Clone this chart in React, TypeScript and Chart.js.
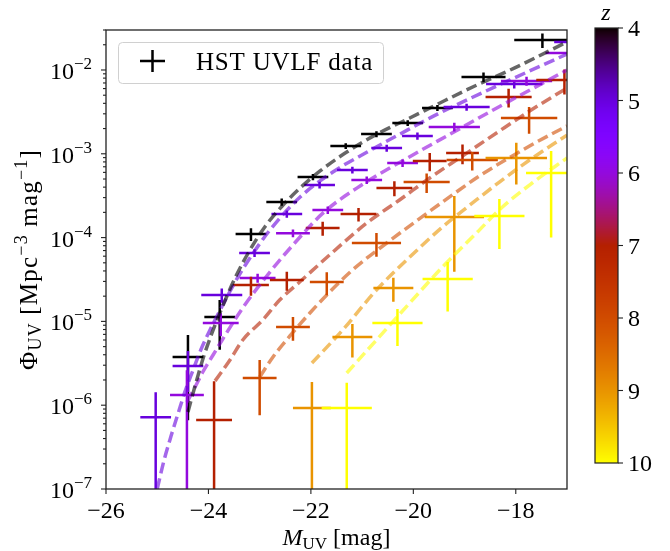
import React, { useEffect, useRef } from 'react';
import { Chart, registerables } from 'chart.js';
Chart.register(...registerables);

const FONT = '"Liberation Serif", "Times New Roman", serif';

// ---------------- HST UVLF data (M_UV, Phi, errors) ----------------
const z4M = [-24.40, -23.78, -23.17, -22.57, -21.96, -21.32, -20.72, -20.11, -19.53, -18.63, -17.48];
const z4dM = [0.3, 0.3, 0.3, 0.3, 0.3, 0.3, 0.3, 0.3, 0.3, 0.43, 0.55];
const z4Phi = [3.76e-6, 1.13e-5, 1.10e-4, 2.66e-4, 5.28e-4, 1.24e-3, 1.72e-3, 2.33e-3, 3.52e-3, 8.24e-3, 2.28e-2];
const z4dPhi = [3.1e-6, 6.7e-6, 1.9e-5, 2.6e-5, 4.5e-5, 1.0e-4, 1.4e-4, 1.9e-4, 2.9e-4, 1.1e-3, 4.5e-3];

const z5M = [-25.03, -24.40, -23.74, -23.10, -22.47, -21.83, -21.19, -20.52, -19.92, -18.96, -18.03, -16.75];
const z5dM = [0.3, 0.3, 0.4, 0.3, 0.3, 0.3, 0.3, 0.3, 0.3, 0.45, 0.55, 0.5];
const z5Phi = [7.2e-7, 2.94e-6, 2.07e-5, 6.55e-5, 1.91e-4, 4.25e-4, 6.41e-4, 1.17e-3, 1.63e-3, 3.61e-3, 6.81e-3, 2.16e-2];
const z5dPhi = [7.1e-7, 1.5e-6, 4e-6, 7e-6, 1.9e-5, 4e-5, 6e-5, 1.1e-4, 1.6e-4, 3.5e-4, 8e-4, 2.5e-3];

const z6M = [-24.42, -23.76, -23.04, -22.35, -21.67, -20.91, -20.21, -19.20, -17.79, -16.92];
const z6dM = [0.33, 0.35, 0.35, 0.33, 0.3, 0.3, 0.3, 0.5, 0.5, 0.5];
const z6Phi = [1.32e-6, 9.57e-6, 3.30e-5, 1.13e-4, 2.13e-4, 4.86e-4, 7.76e-4, 2.09e-3, 7.40e-3, 1.6e-2];
const z6dPhi = [1.3e-6, 2.9e-6, 4e-6, 1.2e-5, 2.2e-5, 5e-5, 8e-5, 2.5e-4, 9e-4, 2e-3];

const z7M = [-23.89, -23.17, -22.47, -21.77, -21.07, -20.37, -19.68, -19.04, -18.14, -17.05];
const z7dM = [0.35, 0.35, 0.33, 0.33, 0.35, 0.35, 0.33, 0.32, 0.45, 0.55];
const z7Phi = [6.65e-7, 2.72e-5, 3.12e-5, 1.30e-4, 1.91e-4, 3.91e-4, 8.20e-4, 1.02e-3, 4.76e-3, 7.6e-3];
const z7dPhi = [1.27e-6, 7e-6, 8e-6, 2.5e-5, 3.5e-5, 8e-5, 2e-4, 2.7e-4, 1.2e-3, 2.5e-3];

const z8M = [-23.00, -22.35, -21.69, -20.72, -19.74, -18.85, -17.74];
const z8dM = [0.33, 0.33, 0.33, 0.48, 0.45, 0.5, 0.55];
const z8Phi = [2.11e-6, 8.57e-6, 2.95e-5, 8.62e-5, 4.60e-4, 8.43e-4, 2.67e-3];
const z8dPhi = [1.35e-6, 2.7e-6, 9e-6, 2.7e-5, 1.2e-4, 2.1e-4, 9.4e-4];

const z9M = [-21.98, -21.19, -20.39, -19.20, -17.99];
const z9dM = [0.37, 0.39, 0.39, 0.58, 0.6];
const z9Phi = [9.27e-7, 6.52e-6, 2.51e-5, 1.76e-4, 8.91e-4];
const z9dPhi = [9.6e-7, 2.8e-6, 8e-6, 1.37e-4, 4.6e-4];

const z10M = [-21.30, -20.31, -19.33, -18.32, -17.31];
const z10dM = [0.49, 0.49, 0.49, 0.49, 0.49];
const z10Phi = [9.27e-7, 9.57e-6, 3.21e-5, 1.81e-4, 5.90e-4];
const z10dPhi = [9.2e-7, 4.5e-6, 1.9e-5, 1.08e-4, 4.9e-4];

// ---------------- model curves (dashed) ----------------
const m4M = [-24.40, -24.24, -24.09, -23.93, -23.77, -23.48, -23.19, -22.90, -22.56, -22.21, -21.82, -21.33, -20.71, -20.07, -19.48, -18.80, -18.02, -17.0];
const m4Phi = [8.30e-7, 1.89e-6, 3.86e-6, 7.28e-6, 1.29e-5, 3.30e-5, 7.11e-5, 1.34e-4, 2.38e-4, 3.91e-4, 6.24e-4, 1.02e-3, 1.72e-3, 2.67e-3, 4.04e-3, 6.44e-3, 1.06e-2, 2.16e-2];

const m5M = [-25.00, -24.87, -24.73, -24.59, -24.46, -24.30, -24.15, -23.97, -23.77, -23.48, -23.19, -22.80, -22.21, -21.57, -20.90, -20.26, -19.52, -18.37, -17.0];
const m5Phi = [1.0e-7, 2.16e-7, 4.28e-7, 8.07e-7, 1.44e-6, 2.63e-6, 4.56e-6, 7.88e-6, 1.37e-5, 2.95e-5, 5.71e-5, 1.23e-4, 3.05e-4, 6.07e-4, 1.05e-3, 1.72e-3, 2.99e-3, 6.44e-3, 1.55e-2];

const m6M = [-24.42, -24.26, -24.11, -23.91, -23.72, -23.33, -22.80, -22.35, -21.76, -21.04, -20.01, -19.28, -18.37, -17.0];
const m6Phi = [1.09e-6, 1.65e-6, 2.49e-6, 3.97e-6, 6.17e-6, 1.45e-5, 3.88e-5, 8.17e-5, 1.97e-4, 4.13e-4, 9.68e-4, 1.72e-3, 3.52e-3, 1.0e-2];

const m7M = [-23.87, -23.58, -23.33, -22.94, -22.61, -22.22, -21.57, -20.91, -20.27, -19.68, -19.04, -18.32, -17.73, -17.0];
const m7Phi = [1.95e-6, 3.46e-6, 6.0e-6, 1.04e-5, 1.80e-5, 2.95e-5, 6.73e-5, 1.49e-4, 2.81e-4, 5.14e-4, 9.42e-4, 1.87e-3, 3.24e-3, 6.1e-3];

const m8M = [-23.00, -22.74, -22.41, -22.02, -21.69, -21.19, -20.52, -19.94, -19.43, -18.71, -17.73, -17.0];
const m8Phi = [2.17e-6, 3.76e-6, 6.7e-6, 1.26e-5, 2.07e-5, 4.1e-5, 8.62e-5, 1.58e-4, 2.66e-4, 5.43e-4, 1.24e-3, 2.15e-3];

const m9M = [-21.98, -21.38, -20.72, -20.07, -19.43, -18.77, -18.32, -17.73, -17.0];
const m9Phi = [3.19e-6, 7.89e-6, 2.37e-5, 5.86e-5, 1.34e-4, 2.81e-4, 4.6e-4, 8.43e-4, 1.67e-3];

const m10M = [-21.30, -20.72, -20.07, -19.43, -18.77, -18.26, -17.68, -17.0];
const m10Phi = [2.42e-6, 6.0e-6, 1.66e-5, 4.46e-5, 1.13e-4, 2.32e-4, 4.48e-4, 8.9e-4];

// ---------------- axes ----------------
const xTicks = [-26, -24, -22, -20, -18];
const yDecades = [-7, -6, -5, -4, -3, -2];
const zTicks = [4, 5, 6, 7, 8, 9, 10];
const zMin = 4;
const zMax = 10;

function gnuplot(t: number): [number, number, number] {
  const r = Math.sqrt(t);
  const g = t * t * t;
  const b = Math.max(0, Math.sin(2 * Math.PI * t));
  return [Math.round(r * 255), Math.round(g * 255), Math.round(b * 255)];
}
function zColor(z: number, alpha = 1) {
  const [r, g, b] = gnuplot((z - zMin) / (zMax - zMin));
  return `rgba(${r},${g},${b},${alpha})`;
}

const uvlf = [
  { z: 4, M: z4M, dM: z4dM, phi: z4Phi, dPhi: z4dPhi },
  { z: 5, M: z5M, dM: z5dM, phi: z5Phi, dPhi: z5dPhi },
  { z: 6, M: z6M, dM: z6dM, phi: z6Phi, dPhi: z6dPhi },
  { z: 7, M: z7M, dM: z7dM, phi: z7Phi, dPhi: z7dPhi },
  { z: 8, M: z8M, dM: z8dM, phi: z8Phi, dPhi: z8dPhi },
  { z: 9, M: z9M, dM: z9dM, phi: z9Phi, dPhi: z9dPhi },
  { z: 10, M: z10M, dM: z10dM, phi: z10Phi, dPhi: z10dPhi },
];
const models = [
  { z: 4, M: m4M, phi: m4Phi },
  { z: 5, M: m5M, phi: m5Phi },
  { z: 6, M: m6M, phi: m6Phi },
  { z: 7, M: m7M, phi: m7Phi },
  { z: 8, M: m8M, phi: m8Phi },
  { z: 9, M: m9M, phi: m9Phi },
  { z: 10, M: m10M, phi: m10Phi },
];

type Seg = { t: string; size: number; dy?: number; italic?: boolean };
function setFont(ctx: CanvasRenderingContext2D, s: Seg) {
  ctx.font = `${s.italic ? 'italic ' : ''}${s.size}px ${FONT}`;
}
function drawRich(ctx: CanvasRenderingContext2D, segs: Seg[], x: number, y: number, align: 'left' | 'center' | 'right', spacing = 0) {
  (ctx as any).letterSpacing = `${spacing}px`;
  let w = 0;
  for (const s of segs) { setFont(ctx, s); w += ctx.measureText(s.t).width; }
  let cx = align === 'left' ? x : align === 'center' ? x - w / 2 : x - w;
  ctx.textAlign = 'left';
  ctx.textBaseline = 'alphabetic';
  for (const s of segs) {
    setFont(ctx, s);
    ctx.fillText(s.t, cx, y + (s.dy || 0));
    cx += ctx.measureText(s.t).width;
  }
  (ctx as any).letterSpacing = '0px';
}

const errorBarPlugin = {
  id: 'uvlfErrorBars',
  beforeDatasetsDraw(chart: any) {
    const { ctx, chartArea: a, scales } = chart;
    const xs = scales.x, ys = scales.y;
    ctx.save();
    ctx.beginPath();
    ctx.rect(a.left, a.top, a.right - a.left, a.bottom - a.top);
    ctx.clip();
    ctx.lineWidth = 2.5;
    ctx.lineCap = 'butt';
    for (const s of uvlf) {
      ctx.strokeStyle = zColor(s.z);
      for (let i = 0; i < s.M.length; i++) {
        const px = xs.getPixelForValue(s.M[i]);
        const py = ys.getPixelForValue(s.phi[i]);
        const x0 = xs.getPixelForValue(s.M[i] - s.dM[i]);
        const x1 = xs.getPixelForValue(s.M[i] + s.dM[i]);
        const top = ys.getPixelForValue(s.phi[i] + s.dPhi[i]);
        const lo = s.phi[i] - s.dPhi[i];
        const bot = lo > 0 ? ys.getPixelForValue(lo) : a.bottom + 20;
        ctx.beginPath();
        ctx.moveTo(x0, py); ctx.lineTo(x1, py);
        ctx.moveTo(px, top); ctx.lineTo(px, bot);
        ctx.stroke();
      }
    }
    ctx.restore();
  },
};

const decorPlugin = {
  id: 'decor',
  afterDraw(chart: any) {
    const { ctx, chartArea: a, scales } = chart;
    const xs = scales.x, ys = scales.y;
    ctx.save();
    ctx.fillStyle = '#000';
    ctx.strokeStyle = '#222';
    // frame
    ctx.lineWidth = 1.3;
    ctx.strokeRect(a.left, a.top, a.right - a.left, a.bottom - a.top);
    // y ticks
    ctx.lineWidth = 1.1;
    for (const k of yDecades) {
      for (let m = 1; m <= 9; m++) {
        const v = m * Math.pow(10, k);
        if (v > ys.max * 1.0001 || v < ys.min * 0.9999) continue;
        const py = ys.getPixelForValue(v);
        const len = m === 1 ? 5 : 3;
        ctx.beginPath(); ctx.moveTo(a.left - len, py); ctx.lineTo(a.left, py); ctx.stroke();
      }
      const py = ys.getPixelForValue(Math.pow(10, k));
      drawRich(ctx, [
        { t: '10', size: 24 },
        { t: '−' + Math.abs(k), size: 17, dy: -10 },
      ], 92, py + 9, 'right');
    }
    // x ticks
    for (const t of xTicks) {
      const px = xs.getPixelForValue(t);
      ctx.beginPath(); ctx.moveTo(px, a.bottom); ctx.lineTo(px, a.bottom + 5); ctx.stroke();
      drawRich(ctx, [{ t: '−' + Math.abs(t), size: 24 }], px, 518, 'center');
    }
    // axis titles
    drawRich(ctx, [
      { t: 'M', size: 24, italic: true },
      { t: 'UV', size: 17, dy: 4 },
      { t: ' [mag]', size: 24 },
    ], (a.left + a.right) / 2, 545, 'center');
    ctx.save();
    ctx.translate(37, (a.top + a.bottom) / 2);
    ctx.rotate(-Math.PI / 2);
    drawRich(ctx, [
      { t: 'Φ', size: 25 },
      { t: 'UV', size: 18, dy: 4 },
      { t: ' [Mpc', size: 25 },
      { t: '−3', size: 18, dy: -10 },
      { t: ' mag', size: 25 },
      { t: '−1', size: 18, dy: -10 },
      { t: ']', size: 25 },
    ], 0, 0, 'center', 1.2);
    ctx.restore();

    // legend
    const lx = 118, ly = 42, lw = 265, lh = 41;
    ctx.fillStyle = 'rgba(255,255,255,0.85)';
    ctx.strokeStyle = '#d0d0d0';
    ctx.lineWidth = 1;
    ctx.beginPath();
    (ctx as any).roundRect(lx + 0.5, ly + 0.5, lw, lh, 4);
    ctx.fill(); ctx.stroke();
    ctx.strokeStyle = zColor(4);
    ctx.lineWidth = 2.5;
    ctx.beginPath();
    ctx.moveTo(140, 61); ctx.lineTo(165, 61);
    ctx.moveTo(152.5, 50); ctx.lineTo(152.5, 72);
    ctx.stroke();
    ctx.fillStyle = '#000';
    drawRich(ctx, [{ t: 'HST UVLF data', size: 25 }], 196, 70, 'left', 0.8);

    // colorbar
    const cbL = 595, cbR = 618, cbT = 28, cbB = 463;
    for (let y = cbT; y < cbB; y++) {
      const t = (y + 0.5 - cbT) / (cbB - cbT);
      const [r, g, b] = gnuplot(t);
      ctx.fillStyle = `rgb(${r},${g},${b})`;
      ctx.fillRect(cbL, y, cbR - cbL, 1);
    }
    ctx.strokeStyle = '#222';
    ctx.lineWidth = 1.2;
    ctx.strokeRect(cbL, cbT, cbR - cbL, cbB - cbT);
    ctx.fillStyle = '#000';
    ctx.lineWidth = 1.1;
    for (const z of zTicks) {
      const py = cbT + ((z - zMin) / (zMax - zMin)) * (cbB - cbT);
      ctx.beginPath(); ctx.moveTo(cbR, py); ctx.lineTo(cbR + 5, py); ctx.stroke();
      drawRich(ctx, [{ t: String(z), size: 24 }], 628, py + 8, 'left');
    }
    drawRich(ctx, [{ t: 'z', size: 24, italic: true }], 606, 20, 'center');
    ctx.restore();
  },
};

export default function App() {
  const ref = useRef<HTMLCanvasElement>(null);
  useEffect(() => {
    const canvas = ref.current!;
    const datasets: any[] = [];
    for (const m of models) {
      datasets.push({
        type: 'line',
        label: `model z=${m.z}`,
        data: m.M.map((x, i) => ({ x, y: m.phi[i] })),
        borderColor: zColor(m.z, 0.6),
        borderWidth: 3.5,
        borderDash: [11, 5],
        borderCapStyle: 'butt',
        pointRadius: 0,
        fill: false,
        cubicInterpolationMode: 'monotone',
      });
    }
    for (const s of uvlf) {
      datasets.push({
        type: 'scatter',
        label: `HST z=${s.z}`,
        data: s.M.map((x, i) => ({ x, y: s.phi[i] })),
        pointRadius: 0,
        backgroundColor: zColor(s.z),
      });
    }
    const chart = new Chart(canvas, {
      type: 'scatter',
      data: { datasets },
      options: {
        responsive: false,
        animation: false,
        devicePixelRatio: 1,
        layout: { padding: { left: 106, right: 103, top: 30, bottom: 62 } },
        scales: {
          x: { type: 'linear', min: -26, max: -17, display: false },
          y: { type: 'logarithmic', min: 1e-7, max: 3e-2, display: false },
        },
        plugins: { legend: { display: false }, tooltip: { enabled: false } },
      } as any,
      plugins: [errorBarPlugin, decorPlugin],
    });
    return () => chart.destroy();
  }, []);
  return (
    <div style={{ position: 'absolute', left: 0, top: 0, width: 670, height: 551, background: '#fff' }}>
      <canvas ref={ref} width={670} height={551} style={{ width: 670, height: 551, display: 'block' }} />
    </div>
  );
}
